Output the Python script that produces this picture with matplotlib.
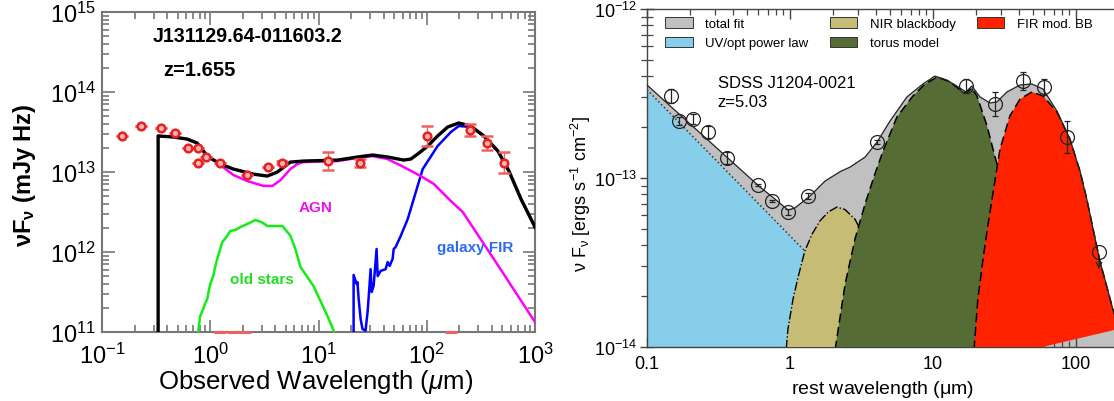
import matplotlib
matplotlib.use('Agg')
import matplotlib.pyplot as plt
import numpy as np
from matplotlib.ticker import LogLocator, NullFormatter
from matplotlib.patches import Patch

plt.rcParams['font.family'] = ['Liberation Sans', 'DejaVu Sans']
plt.rcParams['mathtext.fontset'] = 'custom'
plt.rcParams['mathtext.rm'] = 'Liberation Sans'
plt.rcParams['mathtext.it'] = 'Liberation Sans:italic'
plt.rcParams['mathtext.bf'] = 'Liberation Sans:bold'

# ---------------- Left panel data (observed wavelength um, nuFnu mJy Hz) ----------------
obs_lam = [0.152, 0.228, 0.354, 0.477, 0.622, 0.769, 0.769, 0.913, 1.238, 2.20, 3.42, 4.61,
           12.2, 24.1, 100, 252, 359, 513]
obs_f = [2.84e13, 3.73e13, 3.52e13, 3.07e13, 1.98e13, 1.98e13, 1.30e13, 1.55e13, 1.29e13,
         9.25e12, 1.155e13, 1.30e13, 1.38e13, 1.30e13, 2.84e13, 3.35e13, 2.29e13, 1.30e13]
obs_err_dex = [0, 0, 0, 0, 0, 0, 0, 0, 0, 0, 0, 0.02, 0.11, 0.05, 0.125, 0.08, 0.09, 0.13]
lim_lam = [1.24, 1.63, 2.1, 167]

total_lam = [0.330, 0.330, 0.454, 0.612, 0.758, 0.938, 1.238, 1.63, 2.50, 3.37, 4.17, 5.5, 7.26,
             15.0, 23.0, 31.6, 43.5, 61.2, 71.1, 82.6, 102, 126, 156, 198, 255, 337, 454, 574,
             742, 1000]
total_f = [5e10, 2.82e13, 2.74e13, 2.58e13, 2.30e13, 1.58e13, 1.26e13, 1.09e13, 9.4e12, 8.9e12,
           1.0e13, 1.33e13, 1.37e13, 1.41e13, 1.54e13, 1.63e13, 1.54e13, 1.41e13, 1.45e13,
           1.68e13, 2.11e13, 2.82e13, 3.65e13, 4.10e13, 3.76e13, 2.82e13, 1.83e13, 1.03e13,
           4.6e12, 2.05e12]

agn_lam = [0.330, 0.454, 0.612, 0.758, 0.938, 1.11, 1.63, 2.20, 3.10, 3.75, 4.45, 5.5, 6.39,
           7.26, 15.0, 23.0, 31.6, 43.5, 61.2, 88, 116, 144, 167, 215, 484, 1000]
agn_f = [2.82e13, 2.74e13, 2.58e13, 2.30e13, 1.58e13, 1.37e13, 9.2e12, 7.7e12, 6.7e12, 6.7e12,
         7.9e12, 1.09e13, 1.26e13, 1.33e13, 1.37e13, 1.50e13, 1.58e13, 1.45e13, 1.155e13,
         8.9e12, 7.1e12, 5.3e12, 4.34e12, 3.16e12, 6.0e11, 1.33e11]

fir_lam = [21.1, 21.1, 22.5, 22.9, 23.5, 24.5, 25.5, 27.2, 28.4, 29.0, 30.3, 31.0, 32.3, 34.4,
           35.2, 37.5, 41.7, 43.5, 45.4, 48.4, 49.5, 51.6, 57.4, 66.7, 75.8, 91.8, 126, 167,
           198, 255, 337, 454, 574, 742, 1000]
fir_f = [8e10, 5.16e11, 3.98e11, 4.2e11, 2.58e11, 1.45e11, 1.09e11, 1.04e11, 1.78e11, 2.58e11,
         6.1e11, 3.16e11, 3.76e11, 1.09e12, 5.0e11, 5.8e11, 6.1e11, 7.5e11, 6.7e11, 8.2e11,
         1.09e12, 1.155e12, 1.58e12, 2.58e12, 4.6e12, 1.09e13, 2.11e13, 3.16e13, 3.76e13,
         3.65e13, 2.82e13, 1.83e13, 1.03e13, 4.6e12, 2.05e12]

stars_lam = [0.758, 0.807, 0.861, 0.90, 0.938, 0.97, 1.0, 1.066, 1.11, 1.16, 1.238, 1.29, 1.41,
             1.53, 1.70, 1.90, 2.20, 2.61, 2.97, 3.37, 4.64, 5.5, 6.12, 6.81, 8.99, 12.1, 15.0]
stars_f = [8e10, 1.58e11, 1.94e11, 2.3e11, 2.58e11, 3.3e11, 3.98e11, 5.0e11, 6.5e11, 8.2e11,
           1.09e12, 1.33e12, 1.54e12, 1.83e12, 1.88e12, 2.05e12, 2.24e12, 2.51e12, 2.37e12,
           2.11e12, 2.11e12, 1.6e12, 1.09e12, 6.5e11, 3.76e11, 1.58e11, 8e10]

# ---------------- Right panel data (rest wavelength um, nuFnu erg/s/cm2) ----------------
sed_lam = [0.147, 0.167, 0.21, 0.267, 0.362, 0.597, 0.748, 0.968, 1.336, 4.06, 17.0, 27.2,
           42.6, 59.7, 86.5]
sed_f = [3.06e-13, 2.17e-13, 2.24e-13, 1.87e-13, 1.31e-13, 9.1e-14, 7.3e-14, 6.3e-14, 7.8e-14,
         1.63e-13, 3.5e-13, 2.74e-13, 3.75e-13, 3.45e-13, 1.75e-13]
sed_err_dex = [0.043, 0.024, 0.03, 0.036, 0.036, 0.006, 0.006, 0.018, 0.018, 0.012, 0.041,
               0.071, 0.056, 0.047, 0.095]
ul_lam = [145]
ul_f = [3.65e-14]

fit_lam = [0.1, 0.2, 0.380, 0.616, 0.785, 0.968, 1.08, 1.38, 1.76, 2.24, 2.63, 3.35, 4.06, 5.0,
           6.58, 8.51, 10.3, 12.5, 15.0, 17.0, 18.7, 21.3, 25.0, 28.0, 32.9, 40.6, 49.2, 58.8,
           73.6, 90.8, 107, 119, 147, 181, 200]
fit_f = [3.55e-13, 2.09e-13, 1.28e-13, 8.85e-14, 7.51e-14, 6.47e-14, 6.64e-14, 7.82e-14, 9.6e-14,
         1.09e-13, 1.16e-13, 1.33e-13, 1.63e-13, 2.17e-13, 3.02e-13, 3.6e-13, 4.01e-13, 3.80e-13,
         3.46e-13, 3.23e-13, 3.5e-13, 3.02e-13, 2.78e-13, 2.82e-13, 3.23e-13, 3.55e-13, 3.6e-13,
         3.36e-13, 2.49e-13, 1.70e-13, 1.09e-13, 7.51e-14, 3.23e-14, 1.68e-14, 1.28e-14]

pl_lam = [0.1, 1.27, 2.0]
pl_f = [3.33e-13, 3.7e-14, 2.5e-14]

nir_lam = [0.923, 0.968, 1.05, 1.14, 1.27, 1.43, 1.62, 1.85, 2.13, 2.43, 2.85, 3.35, 3.93, 4.62, 5.42]
nir_f = [8e-15, 1.28e-14, 1.92e-14, 2.6e-14, 3.7e-14, 4.67e-14, 5.57e-14, 6.29e-14, 6.73e-14,
         6.5e-14, 5.7e-14, 4.36e-14, 2.9e-14, 1.68e-14, 8e-15]

torus_lam = [2.0, 2.43, 2.85, 3.35, 3.93, 4.47, 5.6, 7.25, 8.79, 10.7, 13.2, 15.5, 17.0, 18.7,
             20.3, 22.4, 23.9, 26.3, 29.0, 30.9, 33.4, 35.7]
torus_f = [8e-15, 2.36e-14, 4.36e-14, 7.02e-14, 1.06e-13, 1.44e-13, 2.30e-13, 3.06e-13, 3.6e-13,
           3.96e-13, 3.7e-13, 3.32e-13, 3.18e-13, 3.41e-13, 3.06e-13, 2.39e-13, 2.03e-13,
           1.48e-13, 1.09e-13, 7.51e-14, 3.8e-14, 8e-15]

firbb_lam = [19.05, 20.6, 22.4, 24.3, 25.9, 29.4, 34.5, 40.6, 49.2, 58.8, 73.6, 90.8, 107, 119,
             147, 181, 200]
firbb_f = [8e-15, 1.92e-14, 3.32e-14, 5.35e-14, 7.51e-14, 1.48e-13, 2.33e-13, 2.93e-13,
           3.23e-13, 3.06e-13, 2.46e-13, 1.70e-13, 1.09e-13, 7.51e-14, 3.23e-14, 1.68e-14, 1.28e-14]

legend_labels = ['total fit', 'UV/opt power law', 'NIR blackbody', 'torus model', 'FIR mod. BB']
legend_colors = ['#c0c0c0', '#87ceeb', '#c6bc76', '#566c35', '#ff2200']

# ---------------- Figure ----------------
W, H = 1114, 402
fig = plt.figure(figsize=(W / 100, H / 100), dpi=100)

# ---- Left panel ----
axL = fig.add_axes([102 / W, 69 / H, 433 / W, 320 / H])
axL.set_xscale('log'); axL.set_yscale('log')
axL.set_xlim(0.1, 1000); axL.set_ylim(1e11, 1e15)

axL.plot(stars_lam, stars_f, color='#11ee11', lw=1.8, zorder=3)
axL.plot(fir_lam, fir_f, color='#0000ff', lw=1.8, zorder=3)
axL.plot(agn_lam, agn_f, color='#ff00ff', lw=1.8, zorder=3)
axL.plot(total_lam, total_f, color='black', lw=2.4, zorder=4)

of = np.array(obs_f); oe = np.array(obs_err_dex)
yerr = [of * (1 - 10 ** (-oe)), of * (10 ** oe - 1)]
axL.errorbar(obs_lam, obs_f, yerr=yerr, fmt='o', ms=5.5, mfc='#ffb3b3', mec='#e82020', mew=1.8,
             ecolor='#f06060', elinewidth=1.0, capsize=4, zorder=5)
axL.plot(lim_lam, [1e11] * len(lim_lam), ls='none', marker='_', ms=9, mew=2.2,
         color='#f06060', clip_on=False, zorder=5)

for sp in axL.spines.values():
    sp.set_color('#777777'); sp.set_linewidth(1.5)
axL.xaxis.set_minor_locator(LogLocator(base=10, subs=np.arange(2, 10), numticks=20))
axL.yaxis.set_minor_locator(LogLocator(base=10, subs=np.arange(2, 10), numticks=20))
axL.xaxis.set_minor_formatter(NullFormatter()); axL.yaxis.set_minor_formatter(NullFormatter())
axL.tick_params(which='both', direction='in', top=True, right=True, color='#777777', width=1.2,
                labelsize=17)
axL.tick_params(which='major', length=9)
axL.tick_params(which='minor', length=5)
axL.tick_params(axis='x', pad=8)
axL.tick_params(axis='y', pad=4)

axL.text(0.118, 0.925, 'J131129.64-011603.2', transform=axL.transAxes, fontsize=14.1,
         fontweight='bold', ha='left', va='center')
axL.text(0.141, 0.819, 'z=1.655', transform=axL.transAxes, fontsize=14.5,
         fontweight='bold', ha='left', va='center')
axL.text(0.494, 0.391, 'AGN', transform=axL.transAxes, fontsize=11, fontweight='bold',
         color='#ee11ee', ha='center', va='center')
axL.text(0.861, 0.266, 'galaxy FIR', transform=axL.transAxes, fontsize=11, fontweight='bold',
         color='#2a6cf0', ha='center', va='center')
axL.text(0.37, 0.166, 'old stars', transform=axL.transAxes, fontsize=11, fontweight='bold',
         color='#22dd22', ha='center', va='center')

fig.text(24 / W, 1 - 175 / H, r'$\mathbf{\nu F_{\nu}}$ (mJy Hz)', rotation=90, fontsize=17,
         fontweight='bold', ha='center', va='center')
fig.text(316 / W, 1 - 382 / H, r'Observed Wavelength ($\mathit{\mu}$m)', fontsize=18.5,
         ha='center', va='center')

# ---- Right panel ----
axR = fig.add_axes([647 / W, 54 / H, 472 / W, 338 / H])
axR.set_xscale('log'); axR.set_yscale('log')
axR.set_xlim(0.1, 200); axR.set_ylim(1e-14, 1e-12)

axR.fill_between(fit_lam, fit_f, 5e-15, facecolor=legend_colors[0], edgecolor='none', zorder=1)
axR.fill_between(pl_lam, pl_f, 5e-15, facecolor=legend_colors[1], edgecolor='none', zorder=2)
axR.plot(pl_lam, pl_f, color='#333333', ls=':', lw=1.1, zorder=2.1)
axR.fill(nir_lam, nir_f, facecolor=legend_colors[2], edgecolor='none', zorder=3)
axR.plot(nir_lam, nir_f, color='black', ls='-.', lw=1.0, zorder=3.1)
axR.fill(torus_lam, torus_f, facecolor=legend_colors[3], edgecolor='none', zorder=4)
axR.plot(torus_lam, torus_f, color='black', ls=(0, (6, 3)), lw=1.1, zorder=4.1)
axR.fill(firbb_lam, firbb_f, facecolor=legend_colors[4], edgecolor='none', zorder=5)
axR.plot(firbb_lam, firbb_f, color='black', ls=(0, (6, 3)), lw=1.1, zorder=5.1)
axR.plot(fit_lam, fit_f, color='#222222', lw=0.9, zorder=6)

sf = np.array(sed_f); se = np.array(sed_err_dex)
serr = [sf * (1 - 10 ** (-se)), sf * (10 ** se - 1)]
axR.errorbar(sed_lam, sed_f, yerr=serr, fmt='o', ms=10, mfc='none', mec='#222222', mew=0.9,
             ecolor='#222222', elinewidth=0.9, capsize=2.5, zorder=7)
axR.plot(ul_lam, ul_f, 'o', ms=10, mfc='none', mec='#222222', mew=0.9, zorder=7)
for lx, ly in zip(ul_lam, ul_f):
    axR.annotate('', xy=(lx, ly * 0.76), xytext=(lx, ly), zorder=7,
                 arrowprops=dict(arrowstyle='->', color='#222222', lw=0.9))

for sp in axR.spines.values():
    sp.set_color('#444444'); sp.set_linewidth(1.0)
axR.set_xticks([0.1, 1, 10, 100])
axR.set_xticklabels(['0.1', '1', '10', '100'])
axR.set_yticks([1e-14, 1e-13, 1e-12])
axR.set_yticklabels([r'$10^{-14}$', r'$10^{-13}$', r'$10^{-12}$'])
axR.xaxis.set_minor_locator(LogLocator(base=10, subs=np.arange(2, 10), numticks=20))
axR.yaxis.set_minor_locator(LogLocator(base=10, subs=np.arange(2, 10), numticks=20))
axR.xaxis.set_minor_formatter(NullFormatter()); axR.yaxis.set_minor_formatter(NullFormatter())
axR.tick_params(axis='x', which='both', direction='in', top=True, color='#444444',
                labelsize=13, pad=6)
axR.tick_params(axis='y', which='both', direction='inout', color='#444444', labelsize=13, pad=2)
axR.tick_params(which='major', length=7, width=1.0)
axR.tick_params(which='minor', length=4, width=0.9)
axR.tick_params(axis='y', which='major', length=10)
axR.tick_params(axis='y', which='minor', length=8)

handles = [Patch(facecolor=c, edgecolor='#333333', lw=0.7) for c in legend_colors]
axR.legend(handles, legend_labels, ncol=3, loc='upper left', bbox_to_anchor=(0.038, 0.975),
           frameon=False, fontsize=9.5, handlelength=2.1, handleheight=0.8,
           handletextpad=0.95, columnspacing=1.6, labelspacing=0.5, borderaxespad=0,
           borderpad=0)

axR.text(0.150, 0.784, 'SDSS J1204-0021', transform=axR.transAxes, fontsize=12,
         ha='left', va='center')
axR.text(0.150, 0.725, 'z=5.03', transform=axR.transAxes, fontsize=12, ha='left', va='center')

fig.text(581 / W, 1 - 194 / H,
         r'$\mathrm{\nu}$ F$_{\mathrm{\nu}}$ [ergs s$^{-1}$ cm$^{-2}$]', rotation=90,
         fontsize=13, ha='center', va='center')
fig.text(883 / W, 1 - 390 / H, r'rest wavelength ($\mathrm{\mu}$m)', fontsize=14,
         ha='center', va='center')

fig.savefig('out.png', dpi=100)
